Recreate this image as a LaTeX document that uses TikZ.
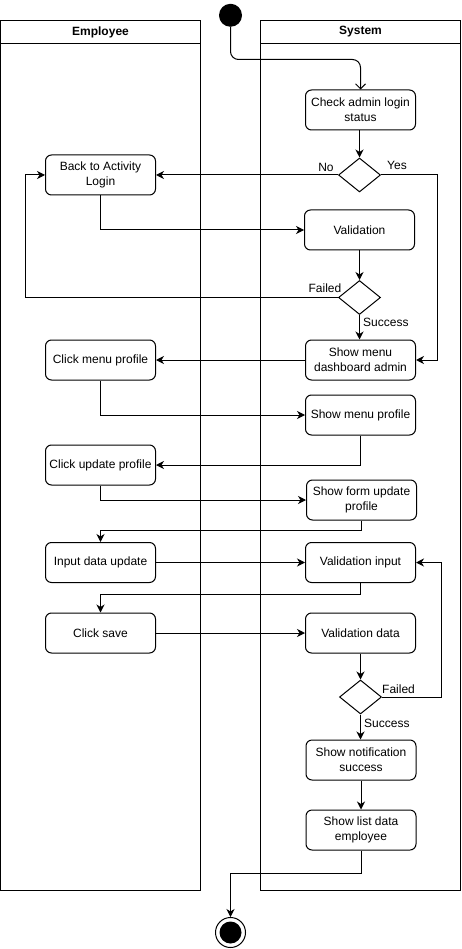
\documentclass[tikz,border=0pt]{standalone}
\usepackage{fontspec}
\setmainfont{Liberation Sans}
\usetikzlibrary{arrows.meta,shapes.geometric}
\begin{document}
\begin{tikzpicture}[x=1pt,y=-1pt,
  font=\fontsize{12pt}{15pt}\selectfont,
  lane/.style={draw,line width=1pt},
  act/.style={draw,line width=1pt,rounded corners=6pt,minimum width=110pt,minimum height=40pt,align=center,inner sep=1pt},
  dec/.style={draw,line width=1pt,diamond,minimum width=42pt,minimum height=34pt,inner sep=0pt},
  flow/.style={line width=1pt,-{Stealth[length=8pt,width=8pt,inset=2.5pt]}},
  openflow/.style={line width=1pt,-{Straight Barb[length=5pt,width=10pt]}},
  lbl/.style={inner sep=0pt}]
\useasboundingbox (0,0) rectangle (461,949);
% lanes
\draw[lane] (0.5,20.5) rectangle (200.5,890.5);
\draw[lane] (0.5,43.5) -- (200.5,43.5);
\node[font=\fontsize{12pt}{15pt}\selectfont\bfseries] (empl) at (100.5,32) {Employee};
\draw[lane] (260.5,20.5) rectangle (460.5,890.5);
\draw[lane] (260.5,43.5) -- (460.5,43.5);
\node[font=\fontsize{12pt}{15pt}\selectfont\bfseries] (syst) at (360.5,32) {System};
% start
\node[circle,fill=black,minimum size=23pt,inner sep=0pt] (start) at (230.5,15.3) {};
% system column
\node[act] (check) at (360.5,110) {Check admin login\\status};
\node[dec] (d1) at (359.5,175) {};
\node[act] (val) at (359.5,230) {Validation};
\node[dec] (d2) at (359.5,297.5) {};
\node[act] (dash) at (360.5,360) {Show menu\\dashboard admin};
\node[act] (smp) at (360.5,415) {Show menu profile};
\node[act] (sfu) at (361.5,500) {Show form update\\profile};
\node[act] (vi) at (360.5,562.5) {Validation input};
\node[act] (vd) at (360.5,633) {Validation data};
\node[dec] (d3) at (360.5,697) {};
\node[act] (sns) at (361,760) {Show notification\\success};
\node[act] (sld) at (361,830) {Show list data\\employee};
% employee column
\node[act] (back) at (100.5,175) {Back to Activity\\Login};
\node[act] (cmp) at (100.5,360) {Click menu profile};
\node[act] (cup) at (100.5,465) {Click update profile};
\node[act] (idu) at (100.5,562.5) {Input data update};
\node[act] (cs) at (100.5,633) {Click save};
% end
\node[circle,draw,line width=1pt,fill=white,minimum size=30pt,inner sep=0pt] (endn) at (230.5,932.5) {};
\node[circle,fill=black,minimum size=22pt,inner sep=0pt] (endin) at (endn.center) {};
% connectors
\draw[openflow,rounded corners=8pt] (start.south) |- ([yshift=30pt]check.north) -- (check.north);
\draw[flow] (check.south -| d1.north) -- (d1.north);
\draw[flow] (d1.west) -- (back.east);
\node[lbl] (lno) at (326,167) {No};
\draw[flow] (d1.east) -| ([xshift=21pt]dash.east) -- (dash.east);
\node[lbl] (lyes) at (397,165.5) {Yes};
\draw[flow] (back.south) |- (val.west);
\draw[flow] (val.south) -- (d2.north);
\draw[flow] (d2.west) -| ([xshift=-20pt]back.west) -- (back.west);
\node[lbl] (lf1) at (325,288) {Failed};
\draw[flow] (d2.south) -- (d2.south |- dash.north);
\node[lbl,anchor=west] (ls1) at (363,322) {Success};
\draw[flow] (dash.west) -- (cmp.east);
\draw[flow] (cmp.south) |- (smp.west);
\draw[flow] (smp.south) |- (cup.east);
\draw[flow] (cup.south) |- (sfu.west);
\draw[flow] (sfu.south) -- ++(0,10) -| (idu.north);
\draw[flow] (idu.east) -- (vi.west);
\draw[flow] (vi.south) -- ++(0,11) -| (cs.north);
\draw[flow] (cs.east) -- (vd.west);
\draw[flow] (vd.south) -- (d3.north);
\draw[flow] (d3.east) -| ([xshift=25pt]vi.east) -- (vi.east);
\node[lbl,anchor=west] (lf2) at (382,689) {Failed};
\draw[flow] (d3.south) -- (d3.south |- sns.north);
\node[lbl,anchor=west] (ls2) at (364,723) {Success};
\draw[flow] (sns.south) -- (sld.north);
\draw[flow] (sld.south) -- ++(0,23) -| (endn.north);
\end{tikzpicture}
\end{document}
